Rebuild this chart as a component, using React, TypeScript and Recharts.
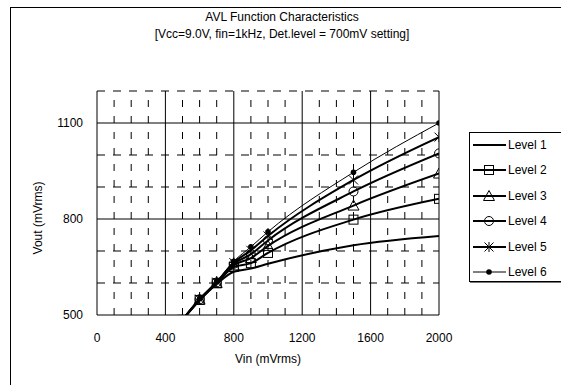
import React from "react";
import {
  ComposedChart,
  Line,
  XAxis,
  YAxis,
  ReferenceLine,
  Legend,
} from "recharts";

const vin = [500, 600, 700, 800, 900, 1000, 1500, 2000];
const level1 = [485, 546, 597, 635, 645, 660, 718, 747];
const level2 = [485, 547, 599, 650, 662, 694, 798, 863];
const level3 = [485, 548, 600, 655, 678, 716, 842, 942];
const level4 = [485, 549, 602, 660, 690, 733, 886, 1005];
const level5 = [485, 550, 603, 664, 702, 747, 922, 1056];
const level6 = [485, 551, 605, 668, 713, 760, 946, 1100];

const xTicks = [0, 400, 800, 1200, 1600, 2000];
const xMajor = [400, 800, 1200, 1600, 2000];
const xMinor = [100, 200, 300, 500, 600, 700, 900, 1000, 1100, 1300, 1400, 1500, 1700, 1800, 1900];
const yTicks = [500, 800, 1100];
const yMajor = [800, 1100];
const yMinor = [600, 700, 900, 1000, 1200];

const FONT = "'Liberation Sans', Arial, sans-serif";

type Marker = "none" | "square" | "triangle" | "circle" | "star" | "dot";

const series: { key: string; name: string; values: number[]; marker: Marker; width: number }[] = [
  { key: "l1", name: "Level 1", values: level1, marker: "none", width: 2 },
  { key: "l2", name: "Level 2", values: level2, marker: "square", width: 2 },
  { key: "l3", name: "Level 3", values: level3, marker: "triangle", width: 2 },
  { key: "l4", name: "Level 4", values: level4, marker: "circle", width: 2 },
  { key: "l5", name: "Level 5", values: level5, marker: "star", width: 2 },
  { key: "l6", name: "Level 6", values: level6, marker: "dot", width: 1 },
];

const data = vin.map((v, i) => {
  const row: Record<string, number> = { vin: v };
  series.forEach((s) => {
    row[s.key] = s.values[i];
  });
  return row;
});

function markerShape(marker: Marker, cx: number, cy: number, key?: string | number) {
  const st = { stroke: "#000", strokeWidth: 1, fill: "none" };
  switch (marker) {
    case "square":
      return <rect key={key} x={cx - 4.5} y={cy - 4.5} width={9} height={9} {...st} />;
    case "triangle":
      return (
        <polygon
          key={key}
          points={`${cx},${cy - 5.5} ${cx + 5.5},${cy + 4.5} ${cx - 5.5},${cy + 4.5}`}
          {...st}
        />
      );
    case "circle":
      return <circle key={key} cx={cx} cy={cy} r={4.5} {...st} />;
    case "star":
      return (
        <path
          key={key}
          d={`M${cx - 4.5},${cy - 4.5}L${cx + 4.5},${cy + 4.5}M${cx - 4.5},${cy + 4.5}L${cx + 4.5},${cy - 4.5}M${cx},${cy - 5}L${cx},${cy + 5}`}
          {...st}
        />
      );
    case "dot":
      return <circle key={key} cx={cx} cy={cy} r={2.8} fill="#000" stroke="none" />;
    default:
      return <g key={key} />;
  }
}

function renderLegend() {
  return (
    <div
      style={{
        border: "1px solid #000",
        boxShadow: "1px 1px 0 #777",
        background: "#fff",
        width: 110,
        height: 150,
        boxSizing: "border-box",
        fontFamily: FONT,
        fontSize: 12,
      }}
    >
      {series.map((s, i) => (
        <div
          key={s.key}
          style={{ position: "absolute", left: 0, top: 5 + i * 25.4, height: 16, display: "flex", alignItems: "center" }}
        >
          <svg width={38} height={16}>
            <line x1={4} y1={8} x2={37} y2={8} stroke="#000" strokeWidth={s.width} />
            {markerShape(s.marker === "dot" ? "dot" : s.marker, 20, 8)}
          </svg>
          <span style={{ marginLeft: 1 }}>{s.name}</span>
        </div>
      ))}
    </div>
  );
}

export default function App() {
  return (
    <div
      style={{
        position: "absolute",
        left: 0,
        top: 0,
        width: 561,
        height: 385,
        overflow: "hidden",
        background: "#fff",
        fontFamily: FONT,
      }}
    >
      <div
        style={{
          position: "absolute",
          left: 10,
          top: 7,
          width: 600,
          height: 420,
          border: "1px solid #000",
        }}
      />
      <div
        style={{
          position: "absolute",
          left: 0,
          top: 9,
          width: 564,
          textAlign: "center",
          fontSize: 12,
          lineHeight: "17px",
          color: "#000",
        }}
      >
        <div>AVL Function Characteristics</div>
        <div>[Vcc=9.0V, fin=1kHz, Det.level = 700mV setting]</div>
      </div>
      <div style={{ position: "absolute", left: 0, top: 0 }}>
        <ComposedChart
          width={561}
          height={385}
          data={data}
          margin={{ top: 91, right: 122, bottom: 40, left: 57 }}
        >
          <XAxis
            type="number"
            dataKey="vin"
            domain={[0, 2000]}
            ticks={xTicks}
            tickLine={false}
            axisLine={{ stroke: "#000" }}
            tick={{ fontSize: 12, fill: "#000", fontFamily: FONT }}
            tickMargin={12}
            height={30}
            allowDataOverflow
          />
          <YAxis
            type="number"
            domain={[500, 1200]}
            ticks={yTicks}
            tickLine={false}
            axisLine={{ stroke: "#000" }}
            tick={{ fontSize: 12, fill: "#000", fontFamily: FONT }}
            tickMargin={8}
            width={40}
            allowDataOverflow
          />
          {xMinor.map((v) => (
            <ReferenceLine key={`xm${v}`} x={v} stroke="#000" strokeDasharray="7 9" />
          ))}
          {yMinor.map((v) => (
            <ReferenceLine key={`ym${v}`} y={v} stroke="#000" strokeDasharray="8 8" />
          ))}
          {xMajor.map((v) => (
            <ReferenceLine key={`xM${v}`} x={v} stroke="#000" />
          ))}
          {yMajor.map((v) => (
            <ReferenceLine key={`yM${v}`} y={v} stroke="#000" />
          ))}
          {series.map((s) => (
            <Line
              key={s.key}
              type="monotone"
              dataKey={s.key}
              name={s.name}
              stroke="#000"
              strokeWidth={s.width}
              dot={
                s.marker === "none"
                  ? false
                  : (p: any) => markerShape(s.marker, p.cx, p.cy, `${s.key}-${p.index}`)
              }
              activeDot={false}
              isAnimationActive={false}
            />
          ))}
          <Legend
            layout="vertical"
            align="center"
            verticalAlign="middle"
            wrapperStyle={{ left: 469, top: 132, width: 110, height: 150 }}
            content={renderLegend}
          />
        </ComposedChart>
      </div>
      <div
        style={{
          position: "absolute",
          left: 168,
          top: 352,
          width: 200,
          textAlign: "center",
          fontSize: 12,
        }}
      >
        Vin (mVrms)
      </div>
      <div
        style={{
          position: "absolute",
          left: 38 - 60,
          top: 218 - 8,
          width: 120,
          height: 16,
          lineHeight: "16px",
          textAlign: "center",
          fontSize: 12,
          transform: "rotate(-90deg)",
        }}
      >
        Vout (mVrms)
      </div>
    </div>
  );
}
